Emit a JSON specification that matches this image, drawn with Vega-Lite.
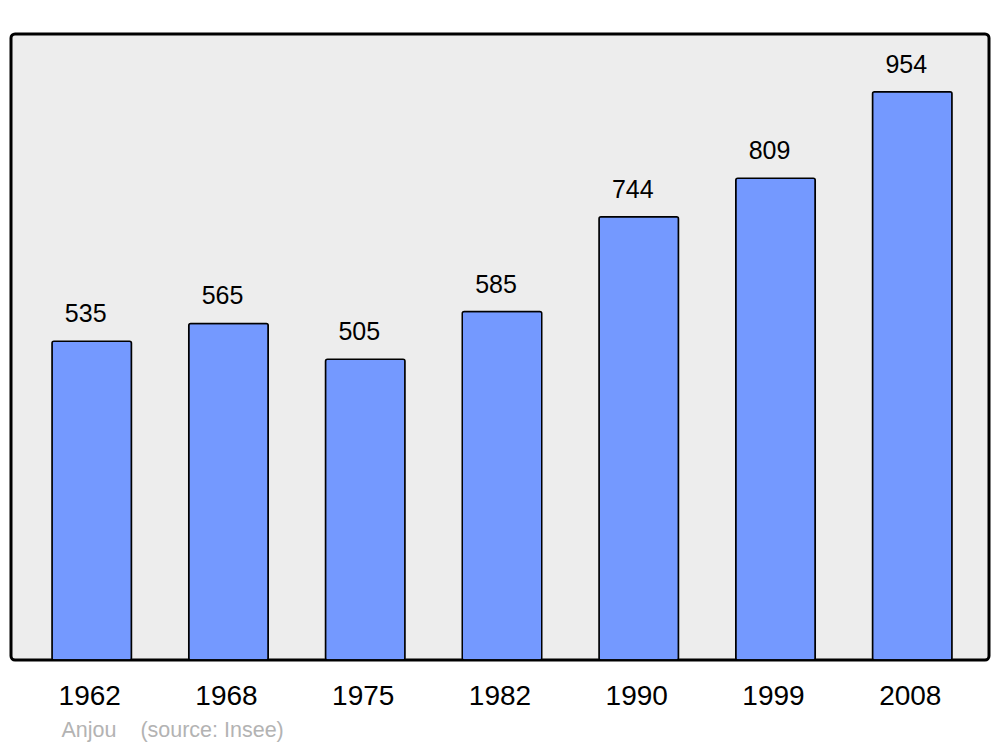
{
  "$schema": "https://vega.github.io/schema/vega-lite/v6.json",
  "width": 978,
  "height": 626,
  "autosize": {"type": "none"},
  "padding": {"left": 11, "top": 34, "right": 11, "bottom": 87},
  "background": "white",
  "config": {
    "view": {"fill": "#ededed", "stroke": "black", "strokeWidth": 3, "cornerRadius": 4},
    "font": "Liberation Sans"
  },
  "data": {
    "values": [
      {"year": "1962", "pop": 535},
      {"year": "1968", "pop": 565},
      {"year": "1975", "pop": 505},
      {"year": "1982", "pop": 585},
      {"year": "1990", "pop": 744},
      {"year": "1999", "pop": 809},
      {"year": "2008", "pop": 954}
    ]
  },
  "encoding": {
    "x": {
      "field": "year",
      "type": "nominal",
      "sort": null,
      "scale": {"paddingInner": 0.4186, "paddingOuter": 0.285},
      "axis": {
        "domain": false,
        "ticks": false,
        "labelAngle": 0,
        "labelFontSize": 28,
        "labelColor": "black",
        "labelPadding": 22,
        "labelFont": "Liberation Sans",
        "title": "Anjou\u00a0\u00a0\u00a0\u00a0(source: Insee)",
        "titleFont": "Liberation Sans",
        "titleFontSize": 21.5,
        "titleFontWeight": "normal",
        "titleColor": "#b3b3b3",
        "titleAlign": "left",
        "titleAnchor": "start",
        "titleBaseline": "top",
        "titleX": 50,
        "titleY": 59
      }
    },
    "y": {
      "field": "pop",
      "type": "quantitative",
      "scale": {"domain": [0, 1051], "nice": false},
      "axis": null
    }
  },
  "layer": [
    {
      "mark": {"type": "bar", "fill": "#7499ff", "stroke": "black", "strokeWidth": 1.5, "cornerRadius": 2, "xOffset": 2}
    },
    {
      "mark": {"type": "text", "baseline": "alphabetic", "dy": -19, "dx": -4, "fontSize": 25, "color": "black", "font": "Liberation Sans"},
      "encoding": {"text": {"field": "pop", "type": "quantitative"}}
    }
  ]
}
